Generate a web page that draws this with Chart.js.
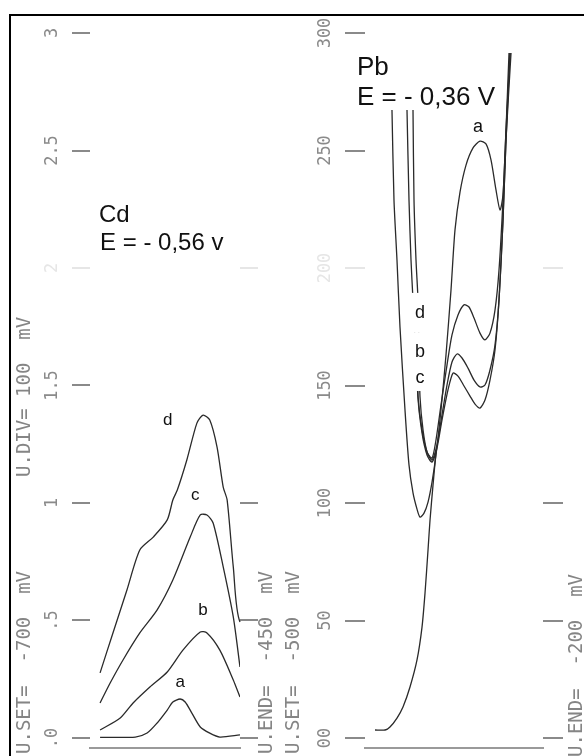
<!DOCTYPE html>
<html>
<head>
<meta charset="utf-8">
<title>Cd / Pb polarogram</title>
<script src="https://cdn.jsdelivr.net/npm/chart.js@4.4.1/dist/chart.umd.min.js"></script>
<style>
  html, body { margin: 0; padding: 0; background: #fff; }
  #page { position: relative; width: 584px; height: 756px; overflow: hidden; background: #fff; }
  #frame { position: absolute; left: 9px; top: 14px; right: -4px; bottom: -4px; border-top: 2px solid #000; border-left: 2px solid #000; }
  canvas { position: absolute; top: 0; }
  #cd { left: 0; }
  #pb { left: 280px; }
</style>
</head>
<body>
<div id="page">
  <div id="frame"></div>
  <canvas id="cd" width="280" height="756"></canvas>
  <canvas id="pb" width="304" height="756"></canvas>
</div>
<script>
// ---- Cd panel (x = potential in mV, y = signal) ----
const cdTicks = [0, 0.5, 1, 1.5, 2, 2.5, 3];
const cdTickLabels = [".0", ".5", "1", "1.5", "2", "2.5", "3"];
const cdA = [[-700, 0.003], [-637, 0.004], [-616, 0.021], [-598, 0.064], [-580, 0.119], [-570, 0.153], [-557, 0.166], [-548, 0.153], [-536, 0.106], [-521, 0.047], [-504, 0.021], [-486, 0.004], [-450, 0.013]];
const cdB = [[-700, 0.034], [-664, 0.085], [-641, 0.149], [-611, 0.217], [-580, 0.281], [-552, 0.374], [-521, 0.451], [-509, 0.447], [-486, 0.374], [-462, 0.247], [-450, 0.174]];
const cdC = [[-700, 0.149], [-682, 0.234], [-659, 0.332], [-629, 0.447], [-598, 0.545], [-570, 0.672], [-539, 0.855], [-521, 0.949], [-509, 0.949], [-498, 0.915], [-480, 0.728], [-462, 0.515], [-450, 0.302]];
const cdD = [[-700, 0.277], [-677, 0.447], [-652, 0.630], [-629, 0.800], [-605, 0.855], [-580, 0.928], [-570, 1.013], [-562, 1.055], [-545, 1.183], [-527, 1.340], [-516, 1.374], [-504, 1.353], [-491, 1.238], [-480, 1.068], [-473, 1.013], [-462, 0.728], [-450, 0.494], [-418, 0.494]];

// ---- Pb panel ----
const pbTicks = [0, 50, 100, 150, 200, 250, 300];
const pbTickLabels = ["00", "50", "100", "150", "200", "250", "300"];
const pbBlank = [[-502.0, 3.4], [-484.0, 3.4], [-475.1, 4.7], [-462.5, 8.5], [-451.7, 13.2], [-439.1, 21.7], [-426.5, 33.2], [-417.5, 47.2], [-412.1, 61.7], [-406.7, 80.0], [-403.1, 92.8], [-397.7, 107.7], [-392.4, 121.7]];
const pbA = [[-471.5, 267.2], [-467.9, 228.9], [-462.5, 203.4], [-457.1, 174.9], [-448.1, 139.6], [-440.9, 116.2], [-433.7, 104.3], [-426.5, 97.4], [-421.1, 94.0], [-413.9, 95.7], [-406.7, 100.4], [-399.5, 108.9], [-392.4, 120.4], [-383.4, 139.6], [-374.4, 163.0], [-365.4, 190.6], [-358.2, 216.2], [-349.2, 232.3], [-338.4, 243.8], [-325.8, 251.1], [-313.3, 254.0], [-302.5, 252.8], [-293.5, 246.0], [-284.5, 233.2], [-277.3, 224.7], [-271.9, 231.1], [-266.5, 258.7], [-259.3, 291.5]];
const pbB = [[-433.7, 267.2], [-431.9, 228.9], [-428.3, 203.4], [-424.7, 186.4], [-422.9, 165.1], [-421.1, 145.1], [-415.7, 131.1], [-408.5, 121.7], [-399.5, 118.3], [-390.6, 124.7], [-381.6, 137.4], [-372.6, 150.2], [-363.6, 160.0], [-354.6, 163.4], [-345.6, 161.7], [-334.8, 157.4], [-324.0, 152.3], [-313.3, 149.4], [-304.3, 150.2], [-295.3, 156.6], [-286.3, 167.2], [-279.1, 186.4], [-271.9, 220.4], [-266.5, 254.5], [-259.3, 291.5]];
const pbC = [[-424.7, 165.1], [-424.7, 145.1], [-417.5, 129.8], [-408.5, 120.4], [-399.5, 117.4], [-390.6, 123.4], [-381.6, 135.3], [-370.8, 148.1], [-361.8, 155.3], [-352.8, 154.0], [-342.0, 149.8], [-331.2, 145.5], [-322.2, 142.1], [-313.3, 140.4], [-304.3, 143.8], [-295.3, 152.3], [-286.3, 165.1], [-279.1, 186.4], [-271.9, 220.4], [-266.5, 254.5], [-257.5, 291.5]];
const pbD = [[-444.5, 267.2], [-440.9, 228.9], [-437.3, 203.4], [-433.7, 186.4], [-430.1, 169.4], [-424.7, 145.1], [-417.5, 131.1], [-408.5, 121.7], [-399.5, 119.1], [-392.4, 126.8], [-383.4, 141.7], [-372.6, 158.7], [-363.6, 171.5], [-352.8, 180.0], [-342.0, 184.3], [-333.0, 183.4], [-324.0, 178.7], [-313.3, 172.3], [-304.3, 169.4], [-295.3, 172.3], [-286.3, 182.1], [-279.1, 199.1], [-271.9, 228.9], [-266.5, 258.7], [-261.1, 291.5]];

const MONO = '"DejaVu Sans Mono", monospace';
const SANS = '"Liberation Sans", Arial, sans-serif';
const LINE = "#2a2a2a";
const TICK = "#8a8a8a";
const FAINT = "#e6e6e6";

const toPoints = (arr) => arr.map(([x, y]) => ({ x, y }));

const curve = (label, arr, extra) => Object.assign({
  label,
  data: toPoints(arr),
  showLine: true,
  pointRadius: 0,
  borderColor: LINE,
  borderWidth: 1.3,
  tension: 0.25,
  fill: false,
}, extra || {});

// draws curve letters / titles at data coords and the rotated printer texts
const notesPlugin = {
  id: "notes",
  afterDraw(chart, args, opts) {
    const { ctx, scales } = chart;
    ctx.save();
    (opts.labels || []).forEach((l) => {
      const x = scales.x.getPixelForValue(l.x);
      const y = scales.y.getPixelForValue(l.y);
      ctx.font = l.font;
      ctx.textAlign = l.align || "center";
      ctx.textBaseline = l.baseline || "middle";
      if (l.box) {
        // white patch so the letter interrupts the curves behind it
        ctx.fillStyle = "#fff";
        ctx.fillRect(x - 14, y - l.box / 2, 24, l.box);
      }
      ctx.fillStyle = "#111";
      ctx.fillText(l.text, x, y);
    });
    (opts.side || []).forEach((s) => {
      ctx.save();
      ctx.translate(s.x, s.y);
      ctx.rotate(-Math.PI / 2);
      ctx.font = "19px " + MONO;
      ctx.textAlign = "left";
      ctx.textBaseline = "middle";
      ctx.fillStyle = "#858585";
      ctx.fillText(s.text, 0, 0);
      ctx.restore();
    });
    ctx.restore();
  },
};

function panel(canvasId, p) {
  const setTicks = (scale) => { scale.ticks = p.ticks.map((v) => ({ value: v })); };
  const tickColor = (ctx) => (ctx.tick && ctx.tick.value === p.faint ? FAINT : TICK);
  const rightColor = (ctx) => {
    const v = ctx.tick && ctx.tick.value;
    if (p.rightTicks.includes(v)) return TICK;
    if (v === p.faint) return FAINT;
    return "rgba(0,0,0,0)";
  };

  return new Chart(document.getElementById(canvasId), {
    type: "scatter",
    data: { datasets: p.datasets },
    options: {
      responsive: false,
      animation: false,
      layout: { padding: { top: 28, bottom: 8, left: 0, right: 0 } },
      plugins: {
        legend: { display: false },
        tooltip: { enabled: false },
        notes: { labels: p.labels, side: p.side },
      },
      scales: {
        x: {
          type: "linear",
          min: p.xMin,
          max: p.xMax,
          grid: { display: false, drawTicks: false },
          ticks: { display: false },
          border: { display: true, color: "#9a9a9a", width: 2 },
          afterFit: (s) => { s.height = 0; s.paddingLeft = 0; s.paddingRight = 0; },
        },
        y: {
          type: "linear",
          position: "left",
          min: p.yMin,
          max: p.yMax,
          afterBuildTicks: setTicks,
          afterFit: (s) => { s.width = p.leftWidth; s.paddingTop = 0; s.paddingBottom = 0; },
          border: { display: false },
          grid: {
            drawOnChartArea: false,
            drawTicks: true,
            tickLength: p.tickLen,
            lineWidth: 2,
            color: tickColor,
          },
          ticks: {
            autoSkip: false,
            minRotation: 90,
            maxRotation: 90,
            crossAlign: "center",
            padding: 4,
            color: tickColor,
            font: { family: MONO, size: 17 },
            callback: (v, i) => p.tickLabels[i],
          },
        },
        yR: {
          type: "linear",
          position: "right",
          min: p.yMin,
          max: p.yMax,
          afterBuildTicks: setTicks,
          afterFit: (s) => { s.width = p.rightWidth; s.paddingTop = 0; s.paddingBottom = 0; },
          border: { display: false },
          grid: {
            drawOnChartArea: false,
            drawTicks: true,
            tickLength: p.tickLen,
            lineWidth: 2,
            color: rightColor,
          },
          ticks: { display: false },
        },
      },
    },
    plugins: [notesPlugin],
  });
}

panel("cd", {
  xMin: -718, xMax: -450,
  yMin: -0.0426, yMax: 3.0213,
  ticks: cdTicks, tickLabels: cdTickLabels,
  rightTicks: [0, 0.5, 1], faint: 2,
  leftWidth: 90, rightWidth: 40, tickLen: 18,
  datasets: [
    curve("a", cdA),
    curve("b", cdB),
    curve("c", cdC),
    curve("d", cdD, { clip: false }),
  ],
  labels: [
    { text: "a", x: -557, y: 0.238, font: "17px " + SANS },
    { text: "b", x: -516, y: 0.545, font: "17px " + SANS },
    { text: "c", x: -530, y: 1.034, font: "17px " + SANS },
    { text: "d", x: -579, y: 1.353, font: "17px " + SANS },
    { text: "Cd", x: -702, y: 2.196, font: "24px " + SANS, align: "left", baseline: "alphabetic" },
    { text: "E = - 0,56 v", x: -700, y: 2.077, font: "24px " + SANS, align: "left", baseline: "alphabetic" },
  ],
  side: [
    { text: "U.SET=  -700  mV", x: 25, y: 754 },
    { text: "U.DIV= 100  mV", x: 25, y: 477 },
    { text: "U.END=  -450  mV", x: 267, y: 754 },
  ],
});

panel("pb", {
  xMin: -520, xMax: -200,
  yMin: -4.255, yMax: 302.13,
  ticks: pbTicks, tickLabels: pbTickLabels,
  rightTicks: [0, 50, 100], faint: 200,
  leftWidth: 85, rightWidth: 41, tickLen: 20,
  datasets: [
    curve("blank", pbBlank),
    curve("a", pbA),
    curve("b", pbB),
    curve("c", pbC),
    curve("d", pbD),
  ],
  labels: [
    { text: "a", x: -317, y: 260, font: "18px " + SANS },
    { text: "d", x: -421, y: 180.9, font: "18px " + SANS, box: 40 },
    { text: "b", x: -421, y: 164.3, font: "18px " + SANS, box: 38 },
    { text: "c", x: -421, y: 153.2, font: "18px " + SANS, box: 26 },
    { text: "Pb", x: -534.4, y: 282.1, font: "26px " + SANS, align: "left", baseline: "alphabetic" },
    { text: "E = - 0,36 V", x: -534.4, y: 269.4, font: "26px " + SANS, align: "left", baseline: "alphabetic" },
  ],
  side: [
    { text: "U.SET=  -500  mV", x: 14, y: 754 },
    { text: "U.END=  -200  mV", x: 297, y: 757 },
  ],
});
</script>
</body>
</html>
